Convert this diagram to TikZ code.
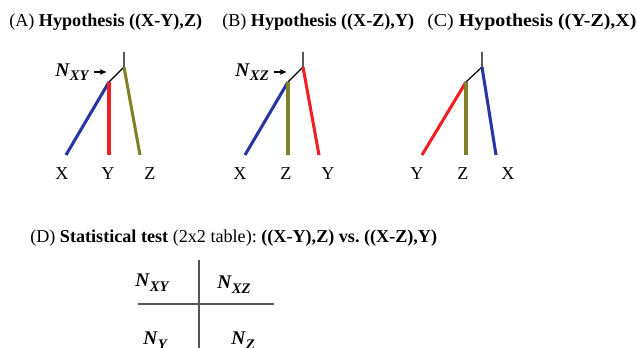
\documentclass[tikz,border=0pt]{standalone}
\usepackage{xcolor}
\usepackage{fontspec}
\setmainfont{Liberation Serif}
\usetikzlibrary{positioning,calc,arrows.meta}
\frenchspacing

\definecolor{xblue}{RGB}{40,55,160}
\definecolor{yred}{RGB}{238,32,36}
\definecolor{zolive}{RGB}{128,128,42}
\definecolor{rulegray}{RGB}{85,85,85}

\newcommand{\Nsub}[1]{{\fontsize{14.5}{16}\selectfont\textbf{\textit{N}}}\raisebox{-0.5ex}{\fontsize{11}{12}\selectfont\textbf{\textit{#1}}}}

\tikzset{
  every node/.style={inner sep=0pt, font=\fontsize{13.6}{16}\selectfont},
  branch/.style={line width=2.3pt},
  stem/.style={line width=0.9pt, black},
  ptr/.style={line width=0.9pt, -{Latex[length=5pt,width=4.5pt]}},
  title/.style={anchor=base west},
  leaf/.style={anchor=base},
  cell/.style={anchor=base west},
  rule/.style={line width=1pt, rulegray}
}

\begin{document}
\begin{tikzpicture}[x=0.75pt, y=-0.75pt]
\useasboundingbox (0,0) rectangle (637,348);
\clip (0,0) rectangle (637,348);

% Titles
\node[title] (ttlA) at (9,27) {(A) \textbf{Hypothesis ((X-Y),Z)}};
\node[title] (ttlB) at (222,27) {(B) \textbf{Hypothesis ((X-Z),Y)}};
\node[title] (ttlC) at (427,27) {\scalebox{1.1}[1]{(C) \textbf{Hypothesis ((Y-Z),X)}}};

% Panel A
\coordinate (atop) at (124,52);
\coordinate (aroot) at (124,67);
\coordinate (ainner) at (109,82);
\coordinate (aX) at (66,155);
\coordinate (aY) at (109,155);
\coordinate (aZ) at (140,155);
\draw[stem] (atop) -- (aroot) -- (ainner);
\draw[branch, xblue] (ainner) -- (aX);
\draw[branch, yred] (ainner) -- (aY);
\draw[branch, zolive] (aroot) -- (aZ);
\node[leaf] (labAX) at (62,180) {X};
\node[leaf] (labAY) at (108,180) {Y};
\node[leaf] (labAZ) at (150,180) {Z};
\node[anchor=east] (nxy) at (90,72) {\Nsub{XY}};
\coordinate (atip) at (107,72);
\draw[ptr, shorten <=3pt] (nxy.east) -- (atip);

% Panel B
\coordinate (btop) at (303,52);
\coordinate (broot) at (303,67);
\coordinate (binner) at (288,82);
\coordinate (bX) at (245,155);
\coordinate (bZ) at (288,155);
\coordinate (bY) at (319,155);
\draw[stem] (btop) -- (broot) -- (binner);
\draw[branch, xblue] (binner) -- (bX);
\draw[branch, zolive] (binner) -- (bZ);
\draw[branch, yred] (broot) -- (bY);
\node[leaf] (labBX) at (240,180) {X};
\node[leaf] (labBZ) at (286,180) {Z};
\node[leaf] (labBY) at (328,180) {Y};
\node[anchor=east] (nxz) at (269,72) {\Nsub{XZ}};
\coordinate (btip) at (287,72);
\draw[ptr, shorten <=4pt] (nxz.east) -- (btip);

% Panel C
\coordinate (ctop) at (482,52);
\coordinate (croot) at (482,67);
\coordinate (cinner) at (466,82);
\coordinate (cY) at (422,155);
\coordinate (cZ) at (466,155);
\coordinate (cX) at (496,155);
\draw[stem] (ctop) -- (croot) -- (cinner);
\draw[branch, yred] (cinner) -- (cY);
\draw[branch, zolive] (cinner) -- (cZ);
\draw[branch, xblue] (croot) -- (cX);
\node[leaf] (labCY) at (417,180) {Y};
\node[leaf] (labCZ) at (463,180) {Z};
\node[leaf] (labCX) at (508,180) {X};

% Panel D: 2x2 table
\node[title] (ttlD) at (30,243) {(D) \textbf{Statistical test} (2x2 table): \textbf{((X-Y),Z) vs. ((X-Z),Y)}};
\coordinate (vtop) at (199,260);
\coordinate (vbot) at (199,360);
\coordinate (hleft) at (138,304);
\coordinate (hright) at (274,304);
\draw[rule] (vtop) -- (vbot);
\draw[rule] (hleft) -- (hright);
\node[cell] (cXY) at (135,287) {\Nsub{XY}};
\node[cell] (cXZ) at (217,289) {\Nsub{XZ}};
\node[cell] (cNY) at (143,345) {\Nsub{Y}};
\node[cell] (cNZ) at (231,345) {\Nsub{Z}};

\end{tikzpicture}
\end{document}
